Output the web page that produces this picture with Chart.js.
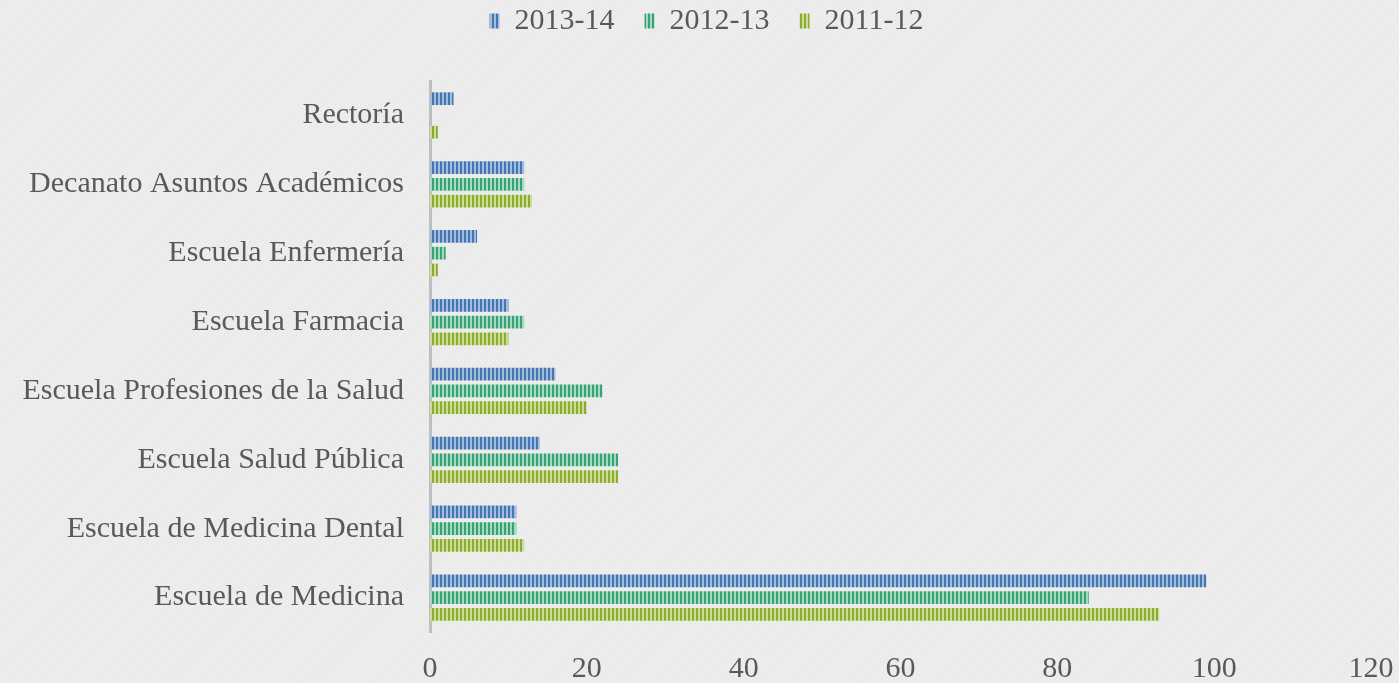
<!DOCTYPE html>
<html lang="es">
<head>
  <meta charset="UTF-8">
  <title>Chart</title>
  <script src="https://cdn.jsdelivr.net/npm/chart.js@4/dist/chart.umd.min.js"></script>
  <style>
    html, body { margin: 0; padding: 0; }
    body {
      width: 1399px; height: 683px; overflow: hidden;
      background-color: #ebebeb;
      background-image: repeating-linear-gradient(135deg, rgba(255,255,255,0.18) 0px, rgba(255,255,255,0.18) 1px, rgba(0,0,0,0.008) 2px, rgba(0,0,0,0.008) 3px);
    }
    #wrap { width: 1399px; height: 683px; }
  </style>
</head>
<body>
  <div id="wrap"><canvas id="myChart"></canvas></div>
  <script>
    const categories = [
      'Rectoría',
      'Decanato Asuntos Académicos',
      'Escuela Enfermería',
      'Escuela Farmacia',
      'Escuela Profesiones de la Salud',
      'Escuela Salud Pública',
      'Escuela de Medicina Dental',
      'Escuela de Medicina'
    ]
    const years = ['2013-14', '2012-13', '2011-12']
    const v2013_14 = [3, 12, 6, 10, 16, 14, 11, 99]
    const v2012_13 = [0, 12, 2, 12, 22, 24, 11, 84]
    const v2011_12 = [1, 13, 1, 10, 20, 24, 12, 93]
    const xTicks = [0, 20, 40, 60, 80, 100, 120]

    // dark / light stripe colours
    const stripeColors = [
      ['#4676b2', '#a3bddd'],
      ['#35a375', '#a6dbc2'],
      ['#8bac2e', '#cddc98']
    ]

    function stripe(dark, light) {
      const c = document.createElement('canvas')
      c.width = 4; c.height = 4
      const g = c.getContext('2d')
      g.fillStyle = light
      g.fillRect(0, 0, 4, 4)
      g.fillStyle = dark
      g.fillRect(0, 0, 2, 4)
      return g.createPattern(c, 'repeat')
    }

    const seriesValues = [v2013_14, v2012_13, v2011_12]
    const textColor = '#595959'
    const serif = "'Liberation Serif', 'DejaVu Serif', serif"
    const fontSize = 30

    // push the plot down below the legend without moving the legend itself
    const legendGap = {
      id: 'legendGap',
      beforeInit(chart) {
        const fit = chart.legend.fit
        chart.legend.fit = function () {
          fit.bind(chart.legend)()
          this.height += 35
        }
      }
    }

    const ctx = document.getElementById('myChart').getContext('2d')
    new Chart(ctx, {
      type: 'bar',
      data: {
        labels: categories,
        datasets: years.map((y, i) => ({
          label: y,
          data: seriesValues[i],
          backgroundColor: stripe(stripeColors[i][0], stripeColors[i][1]),
          borderWidth: 0,
          categoryPercentage: 0.73,
          barPercentage: 0.76
        }))
      },
      options: {
        indexAxis: 'y',
        responsive: true,
        maintainAspectRatio: false,
        animation: false,
        layout: { padding: { left: 14, right: 0, top: -24, bottom: -23 } },
        plugins: {
          legend: {
            position: 'top',
            labels: {
              color: textColor,
              font: { family: serif, size: fontSize },
              boxWidth: 10,
              boxHeight: 15,
              padding: 30
            }
          },
          tooltip: { enabled: false }
        },
        scales: {
          x: {
            min: 0,
            max: 120,
            grid: { display: false, drawTicks: false },
            border: { display: false },
            ticks: {
              stepSize: 20,
              color: textColor,
              font: { family: serif, size: fontSize },
              padding: 19,
              maxRotation: 0,
              callback: (v) => xTicks.includes(v) ? v : ''
            },
            afterFit: (scale) => { scale.paddingRight = 28 }
          },
          y: {
            grid: { display: false, drawTicks: false },
            border: { display: true, color: '#bfbfbf', width: 3 },
            ticks: {
              color: textColor,
              font: { family: serif, size: fontSize },
              padding: 26
            },
            afterFit: (scale) => { scale.width = 416 }
          }
        }
      },
      plugins: [legendGap]
    })
  </script>
</body>
</html>
